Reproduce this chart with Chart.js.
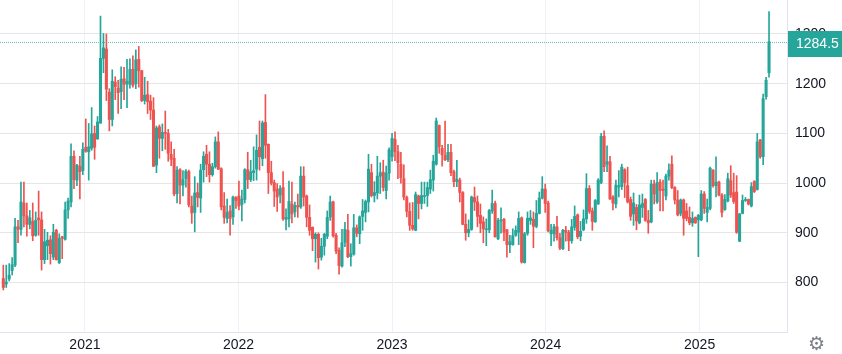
<!DOCTYPE html>
<html>
<head>
<meta charset="utf-8">
<script src="https://cdn.jsdelivr.net/npm/chart.js@4.4.1/dist/chart.umd.min.js"></script>
<style>
  html, body { margin: 0; padding: 0; background: #fff; }
  #wrap { position: relative; width: 842px; height: 354px; }
</style>
</head>
<body>
<div id="wrap"><canvas id="priceChart"></canvas></div>
<script>
// weekly candles, first week starts 21 June 2020
var firstWeek = Date.UTC(2020, 5, 21);
var WEEK = 7 * 24 * 3600 * 1000;

var opens = [808,797,807,824,835,912,907,960,934,917,
  923,895,930,926,846,874,886,851,905,840,
  892,887,946,962,1054,1006,1034,1025,1072,1063,
  1070,1100,1089,1121,1251,1270,1183,1128,1203,1191,
  1184,1210,1199,1199,1229,1200,1249,1226,1166,1178,
  1165,1147,1036,1113,1090,1102,1100,1058,1050,979,
  1027,996,1009,1023,954,941,981,970,1027,1058,
  1038,1017,1033,1083,1029,954,929,944,932,971,
  974,957,967,1027,1007,1021,1028,1072,1049,1122,
  1078,1021,1001,988,976,991,927,928,958,942,
  955,952,1014,974,931,911,888,897,851,873,
  893,932,962,895,865,833,881,905,852,857,
  910,898,933,941,962,1021,975,980,1014,1022,
  985,1020,1053,1088,1063,1038,1009,971,943,915,
  905,974,959,973,975,988,1006,1038,1116,1070,
  1056,1047,1062,1023,1003,1006,981,917,900,907,
  971,962,935,922,906,906,944,959,888,924,
  927,906,876,876,895,901,930,840,899,925,
  927,913,939,970,988,960,898,898,912,890,
  868,905,901,884,911,936,893,906,928,989,
  944,922,958,1001,1094,1038,1043,972,958,992,
  993,1027,995,967,938,951,920,951,967,925,
  922,998,962,1002,988,974,1014,1038,991,966,
  939,966,944,931,920,931,926,926,978,941,
  949,1026,995,1002,976,947,964,1005,981,982,
  883,939,965,967,954,1003,987,1087,1053,1174,
  1222];

var highs = [835,835,838,850,929,925,1002,1002,960,945,
  960,942,984,942,907,901,894,917,907,898,
  893,962,970,1079,1065,1038,1054,1081,1129,1120,
  1152,1115,1134,1336,1301,1300,1190,1228,1214,1207,
  1234,1233,1249,1250,1256,1268,1275,1227,1213,1205,
  1177,1172,1115,1117,1119,1145,1108,1083,1068,1033,
  1029,1025,1027,1026,974,1013,1000,1038,1063,1076,
  1063,1040,1093,1103,1031,981,968,955,974,973,
  1004,986,1029,1062,1046,1073,1097,1125,1125,1178,
  1079,1044,1006,999,995,1023,948,1004,1002,962,
  978,1033,1033,976,956,912,900,900,889,899,
  944,974,964,899,870,907,921,937,878,937,
  916,934,967,966,1058,1038,1003,1054,1041,1046,
  1034,1071,1100,1103,1076,1062,1037,974,960,961,
  982,976,1002,1002,1002,1026,1056,1131,1117,1076,
  1125,1078,1078,1026,1046,1010,983,938,926,974,
  992,974,958,932,928,947,986,964,929,950,
  929,907,895,908,914,942,932,901,942,945,
  942,965,982,1013,998,964,917,917,933,899,
  907,913,905,927,954,938,923,946,1019,995,
  950,967,1009,1100,1105,1075,1054,975,1006,1025,
  1038,1029,1032,972,980,957,976,978,969,945,
  1006,1006,1021,1007,1006,1018,1039,1055,993,985,
  968,968,959,952,942,932,937,985,983,968,
  1032,1027,1053,1004,979,977,1020,1035,1020,1015,
  939,976,971,968,1001,1005,1100,1088,1179,1213,
  1345];

var lows = [785,790,803,815,832,880,895,912,893,908,
  884,893,895,825,838,846,837,846,845,838,
  848,885,929,952,989,995,968,1017,1062,1006,
  1066,1048,1088,1120,1222,1166,1105,1115,1168,1140,
  1150,1168,1152,1191,1193,1190,1193,1164,1159,1140,
  1128,1033,1021,1050,1065,1068,1044,1035,974,960,
  958,974,992,952,919,902,952,941,1002,1013,
  1002,1014,1030,1027,946,919,920,895,917,949,
  946,924,960,989,1003,1005,1006,1026,1035,1050,
  979,996,953,943,960,925,906,912,920,932,
  931,949,954,912,895,864,841,827,845,855,
  888,925,891,858,817,831,872,850,833,855,
  892,878,905,922,942,972,962,968,979,984,
  968,1006,1044,1045,1009,1000,966,932,905,905,
  904,928,948,959,953,979,984,1036,1060,1034,
  1045,1043,1015,993,993,962,916,885,892,905,
  945,912,900,880,874,900,939,891,886,899,
  884,851,860,875,893,876,839,839,895,917,
  870,910,938,968,941,902,874,883,885,866,
  866,883,864,879,905,888,884,904,919,939,
  905,921,957,999,1023,1023,967,946,950,972,
  987,971,960,925,915,906,918,931,923,899,
  920,958,959,944,944,966,1006,989,958,934,
  934,895,924,916,913,919,852,924,939,922,
  946,992,972,974,932,945,962,971,959,899,
  882,938,963,956,952,981,986,1050,1037,1169,
  1213];

var closes = [790,801,815,836,912,907,962,934,917,930,
  894,925,926,846,882,885,858,901,846,889,
  889,946,964,1054,1007,1036,1023,1068,1064,1073,
  1099,1072,1123,1251,1272,1189,1128,1205,1194,1182,
  1209,1199,1205,1229,1197,1248,1226,1166,1177,1164,
  1147,1034,1111,1090,1102,1100,1060,1048,978,1026,
  996,1007,1024,956,940,980,971,1026,1054,1038,
  1017,1033,1083,1028,952,931,941,929,972,965,
  954,968,1027,1007,1023,1025,1066,1053,1121,1076,
  1021,1000,984,972,989,928,931,963,938,955,
  952,1014,972,931,905,888,897,850,873,897,
  931,962,894,863,834,880,907,852,858,910,
  899,932,944,963,1028,975,981,1014,1021,991,
  1020,1067,1090,1063,1041,1011,972,943,915,908,
  977,959,975,975,991,1007,1044,1125,1073,1057,
  1047,1062,1021,1003,1008,981,917,900,907,972,
  962,933,919,908,908,945,959,892,925,926,
  901,876,882,894,905,929,841,898,929,930,
  913,939,970,988,959,904,905,912,890,869,
  905,901,884,912,933,892,903,928,989,943,
  923,965,1006,1094,1033,1043,968,960,996,995,
  1032,1001,962,933,960,924,956,959,925,920,
  998,978,1001,985,985,1014,1026,991,966,936,
  966,929,929,920,929,920,935,978,949,951,
  1030,995,1002,976,941,967,1009,976,963,901,
  938,965,967,958,993,983,1083,1053,1170,1207,
  1284.5];

var lastPrice = 1284.5;
var yearLabels = ['2021', '2022', '2023', '2024', '2025'];
var priceTicks = [800, 900, 1000, 1100, 1200, 1300];

var upColor = '#26a69a';
var downColor = '#ef5350';

// year starts expressed in weeks since the first candle
var yearWeeks = yearLabels.map(function (y) {
  return (Date.UTC(+y, 0, 1) - firstWeek) / WEEK;
});

var candleColors = closes.map(function (c, i) {
  return c >= opens[i] ? upColor : downColor;
});
var wickData = closes.map(function (c, i) {
  return { x: i, y: [lows[i], highs[i]] };
});
var bodyData = closes.map(function (c, i) {
  return { x: i, y: [opens[i], c] };
});

var labelFont = { family: '"Liberation Sans", Arial, sans-serif', size: 14 };

// no extra room for edge labels, the plot fills the canvas
function noEdgePadding(scale) {
  scale.paddingTop = 0;
  scale.paddingBottom = 0;
  scale.paddingLeft = 0;
  scale.paddingRight = 0;
}

var lastPricePlugin = {
  id: 'lastPrice',
  beforeDatasetsDraw: function (chart) {
    var ctx = chart.ctx, a = chart.chartArea;
    var y = Math.round(chart.scales.y.getPixelForValue(lastPrice)) + 0.5;
    ctx.save();
    ctx.strokeStyle = 'rgba(38,166,154,0.7)';
    ctx.lineWidth = 1;
    ctx.setLineDash([1, 1]);
    ctx.beginPath();
    ctx.moveTo(a.left, y);
    ctx.lineTo(a.right, y);
    ctx.stroke();
    ctx.restore();
  },
  afterDraw: function (chart) {
    var ctx = chart.ctx, a = chart.chartArea;
    var y = Math.round(chart.scales.y.getPixelForValue(lastPrice));
    ctx.save();
    ctx.fillStyle = upColor;
    ctx.fillRect(a.right + 1, y - 11, chart.width - a.right - 1, 26);
    ctx.fillStyle = '#ffffff';
    ctx.font = '14px "Liberation Sans", Arial, sans-serif';
    ctx.textBaseline = 'middle';
    ctx.textAlign = 'left';
    ctx.fillText(lastPrice.toFixed(1), a.right + 9, y + 2);
    // settings gear under the price scale
    ctx.fillStyle = '#7b7e87';
    ctx.font = '19px "DejaVu Sans", sans-serif';
    ctx.textAlign = 'center';
    ctx.fillText('\u2699', (a.right + chart.width) / 2 + 2, a.bottom + 13);
    ctx.restore();
  }
};

var ctx1 = document.getElementById('priceChart').getContext('2d');
var priceChart = new Chart(ctx1, {
  type: 'bar',
  data: {
    datasets: [{
      label: 'wicks',
      data: wickData,
      backgroundColor: candleColors,
      barThickness: 1,
      grouped: false,
      order: 2
    }, {
      label: 'bodies',
      data: bodyData,
      backgroundColor: candleColors,
      barThickness: 2.4,
      minBarLength: 1,
      grouped: false,
      order: 1
    }]
  },
  options: {
    responsive: true,
    maintainAspectRatio: false,
    animation: false,
    layout: { padding: 0 },
    plugins: {
      legend: { display: false },
      tooltip: { enabled: false }
    },
    scales: {
      x: {
        type: 'linear',
        offset: false,
        min: -1.12,
        max: 266.1,
        grid: { color: '#eff1f5', drawTicks: false, offset: false },
        border: { display: true, color: '#e0e3eb' },
        afterBuildTicks: function (scale) {
          scale.ticks = yearWeeks.map(function (w) { return { value: w }; });
        },
        afterFit: function (scale) {
          scale.height = 22;
          noEdgePadding(scale);
        },
        ticks: {
          autoSkip: false,
          maxRotation: 0,
          padding: 5,
          color: '#131722',
          font: labelFont,
          callback: function (v, i) { return yearLabels[i]; }
        }
      },
      y: {
        position: 'right',
        min: 700.4,
        max: 1368.4,
        grid: { color: '#e6e6e6', drawTicks: false },
        border: { display: true, color: '#e0e3eb' },
        afterBuildTicks: function (scale) {
          scale.ticks = priceTicks.map(function (v) { return { value: v }; });
        },
        afterFit: function (scale) {
          scale.width = 55;
          noEdgePadding(scale);
        },
        ticks: {
          padding: 8,
          color: '#131722',
          font: labelFont,
          callback: function (v) { return String(v); }
        }
      }
    }
  },
  plugins: [lastPricePlugin]
});
</script>
</body>
</html>
